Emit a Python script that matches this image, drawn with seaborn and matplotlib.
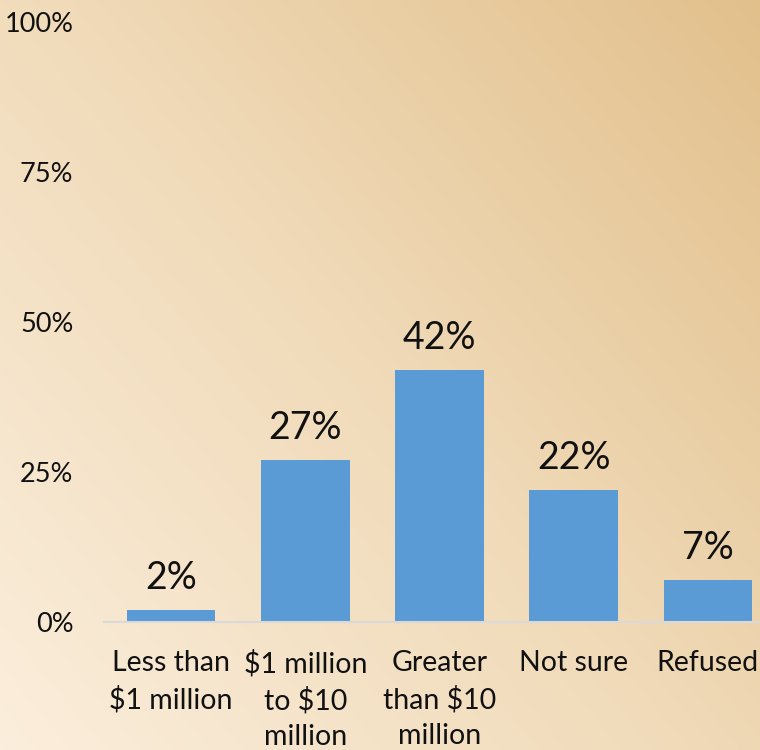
import numpy as np
import matplotlib
matplotlib.use("Agg")
import matplotlib.pyplot as plt
from matplotlib.colors import LinearSegmentedColormap
import seaborn as sns
import pandas as pd

categories = ["Less than\n$1 million", "$1 million\nto $10\nmillion", "Greater\nthan $10\nmillion",
              "Not sure", "Refused"]
values = [2, 27, 42, 22, 7]
y_ticks = [0, 25, 50, 75, 100]
y_tick_labels = ["0%", "25%", "50%", "75%", "100%"]

sns.set_theme(style="white")
plt.rcParams["font.family"] = ["Lato", "DejaVu Sans"]

fig = plt.figure(figsize=(7.6, 7.5), dpi=100)

# diagonal parchment gradient behind the chart
bg = fig.add_axes([0, 0, 1, 1], zorder=-10)
h, w = 300, 304
yy, xx = np.mgrid[0:h, 0:w]
t = (xx / w) * 0.55 + ((h - yy) / h) * 0.45
cmap = LinearSegmentedColormap.from_list(
    "parch", ["#FBEEDC", "#F0DAB8", "#E2C08C"])
bg.imshow(t, cmap=cmap, aspect="auto", origin="upper", vmin=0, vmax=1)
bg.axis("off")

ax = fig.add_axes([104 / 760, 128 / 750, 656 / 760, 600 / 750])
ax.patch.set_alpha(0)

df = pd.DataFrame({"cat": categories, "val": values})
sns.barplot(data=df, x="cat", y="val", color="#5B9BD5", width=0.66,
            saturation=1, linewidth=0, edgecolor="none", ax=ax)

ax.set_xlim(-0.5, 4.388)
ax.set_ylim(0, 100)
ax.set_yticks(y_ticks)
ax.set_yticklabels(y_tick_labels)
ax.set_xlabel("")
ax.set_ylabel("")
for s in ["top", "right", "left"]:
    ax.spines[s].set_visible(False)
ax.spines["bottom"].set_color("#D9D9D9")
ax.spines["bottom"].set_linewidth(1.5)
ax.tick_params(axis="y", length=0, pad=22, labelsize=19.5, labelcolor="#111111")
ax.tick_params(axis="x", length=0, pad=20, labelsize=20.5, labelcolor="#111111")
for lab in ax.get_xticklabels():
    lab.set_parse_math(False)
    lab.set_linespacing(1.45)

ax.bar_label(ax.containers[0], labels=[f"{v}%" for v in values],
             padding=10, fontsize=27, color="#111111")

fig.savefig("out.png", dpi=100)
